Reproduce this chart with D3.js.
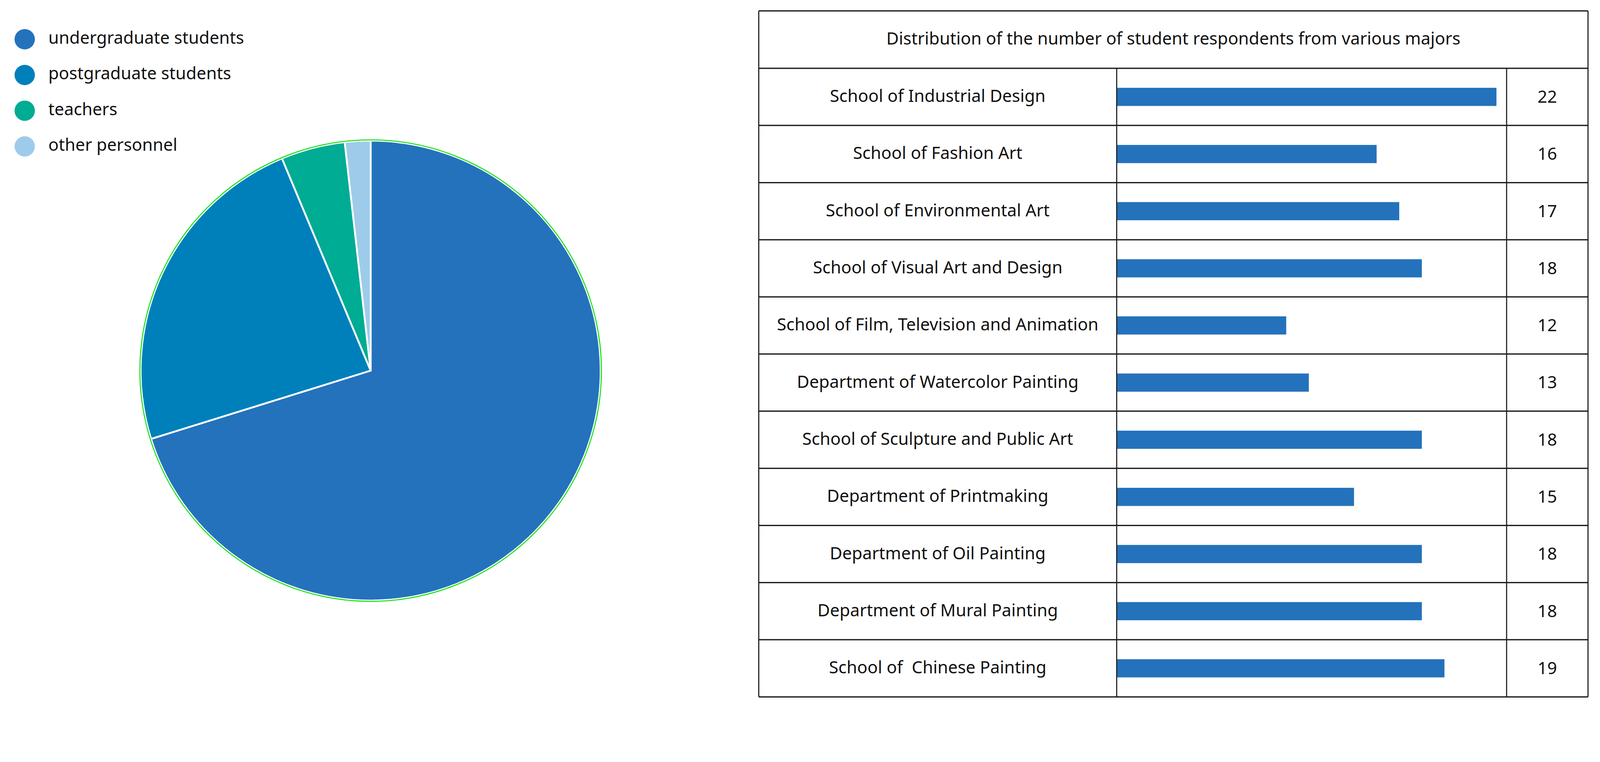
<!DOCTYPE html>
<html><head><meta charset="utf-8">
<script src="https://cdn.jsdelivr.net/npm/d3@7/dist/d3.min.js"></script>
<style>
html,body{margin:0;padding:0;background:#fff;overflow:hidden;}
svg{display:block;width:100vw;height:100vh;}
text{font-family:"Noto Sans",sans-serif;fill:#111;}
</style>
</head><body>
<svg id="chart" viewBox="0 0 4403 1951" preserveAspectRatio="xMidYMin meet"></svg>
<script>
// ---- data ----
const groups = ["undergraduate students", "postgraduate students", "teachers", "other personnel"];
const groupShares = [70.2, 23.5, 4.5, 1.8];
const groupColors = ["#2472BC", "#0080BB", "#00AC93", "#9FCBEB"];

const tableTitle = "Distribution of the number of student respondents from various majors";
const majors = [
  "School of Industrial Design",
  "School of Fashion Art",
  "School of Environmental Art",
  "School of Visual Art and Design",
  "School of Film, Television and Animation",
  "Department of Watercolor Painting",
  "School of Sculpture and Public Art",
  "Department of Printmaking",
  "Department of Oil Painting",
  "Department of Mural Painting",
  "School of  Chinese Painting"
];
const counts = [22, 16, 17, 18, 12, 13, 18, 15, 18, 18, 19];

// ---- setup ----
const svg = d3.select("#chart");
const FS = 47;

// ---- legend ----
const legend = svg.append("g");
const legendY = d3.scalePoint().domain(groups).range([108, 403]);
legend.selectAll("circle").data(groups).join("circle")
  .attr("cx", 68).attr("cy", d => legendY(d)).attr("r", 28)
  .attr("fill", (d, i) => groupColors[i]);
legend.selectAll("text").data(groups).join("text")
  .attr("x", 133).attr("y", d => legendY(d) + 12)
  .attr("font-size", FS).text(d => d);

// ---- pie ----
const cx = 1020, cy = 1020, R = 633;
const pieData = d3.pie().sort(null).value(d => d.v)
  (groups.map((g, i) => ({g, v: groupShares[i], c: groupColors[i]})));
const arc = d3.arc().innerRadius(0).outerRadius(R);
const pg = svg.append("g").attr("transform", `translate(${cx},${cy})`);
pg.selectAll("path").data(pieData).join("path")
  .attr("d", arc).attr("fill", d => d.data.c)
  .attr("stroke", "#fff").attr("stroke-width", 5).attr("stroke-linejoin", "round");
pg.append("circle").attr("r", R + 2).attr("fill", "none")
  .attr("stroke", "#22e322").attr("stroke-width", 3);

// ---- table ----
const tL = 2088, tR = 4370, tT = 30, hB = 188, tB = 1918;
const c1 = 3073, c2 = 4146;
const rowY = d3.scaleBand().domain(majors).range([hB, tB]);
const barX = d3.scaleLinear().domain([4.5, 21.3]).range([c1, 4118]).clamp(true);
const barH = 50;

const tg = svg.append("g");
// title
tg.append("text").attr("x", (tL + tR) / 2).attr("y", (tT + hB) / 2 + 14)
  .attr("text-anchor", "middle").attr("font-size", FS).text(tableTitle);

// bars
tg.selectAll("rect.bar").data(majors).join("rect").attr("class", "bar")
  .attr("x", c1).attr("y", d => rowY(d) + rowY.bandwidth() / 2 - barH / 2)
  .attr("width", (d, i) => barX(counts[i]) - c1).attr("height", barH)
  .attr("fill", "#2472BC");

// labels
tg.selectAll("text.lab").data(majors).join("text").attr("class", "lab")
  .attr("x", (tL + c1) / 2).attr("y", d => rowY(d) + rowY.bandwidth() / 2 + 14)
  .attr("text-anchor", "middle").attr("font-size", FS)
  .attr("xml:space", "preserve").style("white-space", "pre").text(d => d);

// values
tg.selectAll("text.val").data(majors).join("text").attr("class", "val")
  .attr("x", (c2 + tR) / 2).attr("y", d => rowY(d) + rowY.bandwidth() / 2 + 16)
  .attr("text-anchor", "middle").attr("font-size", FS).text((d, i) => counts[i]);

// grid lines
const hLines = [tT, hB].concat(majors.map(m => rowY(m) + rowY.bandwidth()));
tg.selectAll("line.h").data(hLines).join("line").attr("class", "h")
  .attr("x1", tL).attr("x2", tR).attr("y1", d => d).attr("y2", d => d)
  .attr("stroke", "#1a1a1a").attr("stroke-width", 3.5);
tg.append("line").attr("x1", tL).attr("x2", tL).attr("y1", tT).attr("y2", tB)
  .attr("stroke", "#1a1a1a").attr("stroke-width", 3);
tg.append("line").attr("x1", tR).attr("x2", tR).attr("y1", tT).attr("y2", tB)
  .attr("stroke", "#1a1a1a").attr("stroke-width", 3);
[c1, c2].forEach(x => tg.append("line").attr("x1", x).attr("x2", x).attr("y1", hB).attr("y2", tB)
  .attr("stroke", "#1a1a1a").attr("stroke-width", 3));
</script>
</body></html>
